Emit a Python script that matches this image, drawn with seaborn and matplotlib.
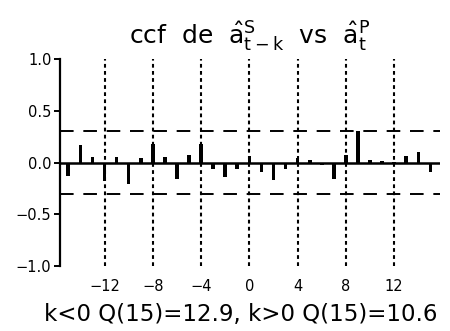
import numpy as np
import pandas as pd
import matplotlib
matplotlib.use("Agg")
import matplotlib.pyplot as plt
import seaborn as sns

# data
lags = list(range(-15, 16))
ccf = [-0.13, 0.17, 0.05, -0.18, 0.05, -0.21, 0.04, 0.18, 0.05, -0.16,
       0.07, 0.18, -0.06, -0.14, -0.06, 0.06, -0.09, -0.17, -0.06, 0.04,
       0.02, -0.025, -0.16, 0.07, 0.30, 0.025, 0.015, 0.005, 0.063, 0.10,
       -0.09]
band = 0.30
grid_lags = [-12, -8, -4, 0, 4, 8, 12]
yticks = [-1.0, -0.5, 0.0, 0.5, 1.0]
title = (r'ccf  de  $\hat{\mathrm{a}}^{\mathrm{S}}_{\mathrm{t-k}}$  vs  '
         r'$\hat{\mathrm{a}}^{\mathrm{P}}_{\mathrm{t}}$')
footer = 'k<0 Q(15)=12.9, k>0 Q(15)=10.6'

sns.set_style("white", {"text.color": "black", "xtick.color": "black",
                        "ytick.color": "black", "axes.labelcolor": "black"})
plt.rcParams['font.family'] = ['DejaVu Sans']
plt.rcParams['mathtext.fontset'] = 'dejavusans'

df = pd.DataFrame({"lag": lags, "ccf": ccf})

fig = plt.figure(figsize=(4.5, 3.31), dpi=100)
ax = fig.add_axes([0.133, 0.196, 0.845, 0.626])

sns.barplot(data=df, x="lag", y="ccf", native_scale=True, color="black",
            width=0.3, saturation=1, linewidth=0, ax=ax)

for g in grid_lags:
    ax.axvline(g, color="black", lw=1.5, ls=(0, (1.8, 1.6)), zorder=0)
ax.axhline(band, color="black", lw=1.4, ls=(0, (7, 5)), zorder=0)
ax.axhline(-band, color="black", lw=1.4, ls=(0, (7, 5)), zorder=0)
ax.axhline(0, color="black", lw=1.8)

ax.set_xlim(-15.7, 15.8)
ax.set_ylim(-1.0, 1.0)
ax.set_yticks(yticks)
ax.set_yticklabels(['\u22121.0', '\u22120.5', '0.0', '0.5', '1.0'], fontsize=10.5)
ax.set_xticks(grid_lags)
ax.set_xticklabels([('\u2212' + str(abs(v))) if v < 0 else str(v) for v in grid_lags],
                   fontsize=10.5)
ax.tick_params(axis='x', length=0, pad=9, colors="black")
ax.tick_params(axis='y', length=4, width=1.4, direction='out', pad=2, left=True,
               colors="black")
ax.set_xlabel("")
ax.set_ylabel("")
for s in ["top", "right", "bottom"]:
    ax.spines[s].set_visible(False)
ax.spines["left"].set_linewidth(1.6)
ax.spines["left"].set_color("black")

fig.text(0.555, 0.89, title, ha="center", va="center", fontsize=18, color="black")
fig.text(0.535, 0.05, footer, ha="center", va="center", fontsize=16.5, color="black")

fig.savefig("out.png", dpi=100)
